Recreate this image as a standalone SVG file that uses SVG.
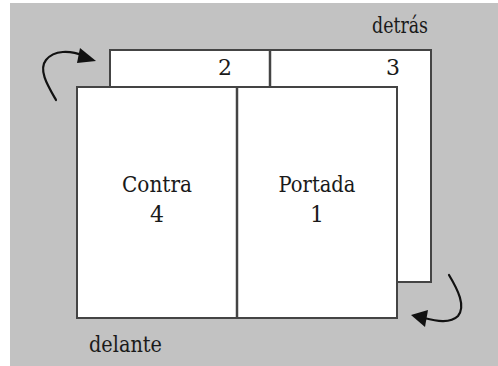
<svg xmlns="http://www.w3.org/2000/svg" width="498" height="366" viewBox="0 0 498 366">
<style>
.pg{fill:#ffffff;stroke:#444444;stroke-width:2}
.dv{stroke:#444444;stroke-width:2.5}
.t{font-family:'DejaVu Serif',serif;font-size:22px;fill:#1a1a1a}
.ar{fill:none;stroke:#111111;stroke-width:2.2;stroke-linecap:round}
.ah{fill:#111111}
</style>
<rect x="0" y="0" width="498" height="366" fill="#ffffff"/>
<rect x="10" y="3" width="488" height="363" fill="#c2c2c2"/>
<g id="back">
<rect class="pg" x="110" y="50" width="321" height="232"/>
<line class="dv" x1="270" y1="50" x2="270" y2="88"/>
<text class="t" x="225" y="75" text-anchor="middle">2</text>
<text class="t" x="393" y="75" text-anchor="middle">3</text>
</g>
<g id="front">
<rect class="pg" x="77" y="87" width="320" height="231"/>
<line class="dv" x1="237" y1="87" x2="237" y2="318"/>
<text class="t" x="157" y="192" text-anchor="middle" textLength="70" lengthAdjust="spacingAndGlyphs">Contra</text>
<text class="t" x="157" y="222" text-anchor="middle">4</text>
<text class="t" x="317" y="192" text-anchor="middle" textLength="77" lengthAdjust="spacingAndGlyphs">Portada</text>
<text class="t" x="317" y="222" text-anchor="middle">1</text>
</g>
<g id="labels">
<text class="t" x="428" y="33" text-anchor="end" textLength="56" lengthAdjust="spacingAndGlyphs">detrás</text>
<text class="t" x="89" y="352" textLength="73" lengthAdjust="spacingAndGlyphs">delante</text>
</g>
<g id="connectors">
<path class="ar" d="M56,100 C48,86 38,70 46,60 C54,50 70,50 84,56"/>
<polygon class="ah" points="96,61 80,48 77,63"/>
<path class="ar" d="M449,275 C458,290 466,306 458,316 C450,324 436,321 424,318"/>
<polygon class="ah" points="411,315 428,310 425,327"/>
</g>
</svg>
